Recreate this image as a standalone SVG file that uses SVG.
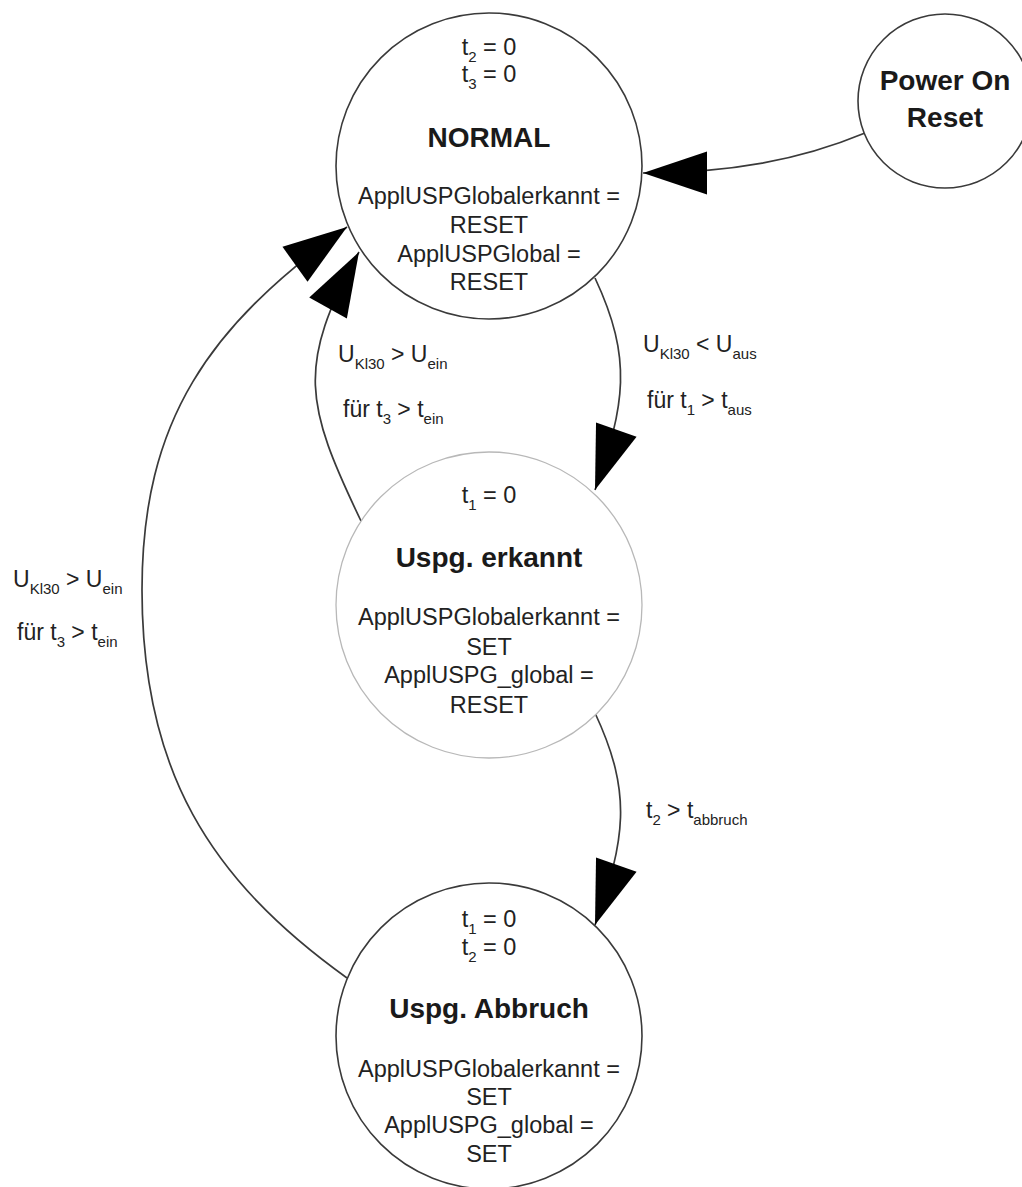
<svg xmlns="http://www.w3.org/2000/svg" width="1022" height="1187" viewBox="0 0 1022 1187">
  <style>
    .state { fill: #ffffff; stroke: #3a3a3a; stroke-width: 1.6; }
    .state.soft { stroke: #b8b8b8; stroke-width: 1.3; }
    .txt { font-family: "Liberation Sans", Arial, sans-serif; font-size: 23.5px; fill: #222; text-anchor: middle; }
    .title { font-family: "Liberation Sans", Arial, sans-serif; font-size: 28px; font-weight: bold; fill: #1a1a1a; text-anchor: middle; }
    .lbl { font-family: "Liberation Sans", Arial, sans-serif; font-size: 23px; fill: #222; }
    .sub { font-size: 15px; }
    .edge { fill: none; stroke: #3a3a3a; stroke-width: 1.7; marker-end: url(#head); }
  </style>
  <defs>
    <marker id="head" markerUnits="userSpaceOnUse" markerWidth="64" markerHeight="43" refX="64" refY="21.5" orient="auto" overflow="visible">
      <path d="M0,0 L64,21.5 L0,43 Z" fill="#000"/>
    </marker>
  </defs>
  <rect width="1022" height="1187" fill="#ffffff"/>

  <!-- transitions -->
  <g id="connectors">
    <!-- Power On Reset -> NORMAL -->
    <path class="edge" d="M865,133 C800,160 730,173 643,173"/>
    <!-- NORMAL -> Uspg. erkannt -->
    <path class="edge" d="M595,278 C633,359 625,405 595,490"/>
    <!-- Uspg. erkannt -> NORMAL -->
    <path class="edge" d="M361,521 C305,404 296,366 359,252"/>
    <!-- Uspg. erkannt -> Uspg. Abbruch -->
    <path class="edge" d="M595,713 C633,794 625,840 595,925"/>
    <!-- Uspg. Abbruch -> NORMAL -->
    <path class="edge" d="M347,978 C209,879 142,770 142,590 C142,420 209,326 347,227"/>
  </g>

  <!-- transition labels -->
  <g id="labels">
    <text class="lbl" x="643" y="352">U<tspan class="sub" dy="7">Kl30</tspan><tspan dy="-7"> &lt; U</tspan><tspan class="sub" dy="7">aus</tspan></text>
    <text class="lbl" x="647" y="408">für t<tspan class="sub" dy="7">1</tspan><tspan dy="-7"> &gt; t</tspan><tspan class="sub" dy="7">aus</tspan></text>
    <text class="lbl" x="338" y="362">U<tspan class="sub" dy="7">Kl30</tspan><tspan dy="-7"> &gt; U</tspan><tspan class="sub" dy="7">ein</tspan></text>
    <text class="lbl" x="343" y="417">für t<tspan class="sub" dy="7">3</tspan><tspan dy="-7"> &gt; t</tspan><tspan class="sub" dy="7">ein</tspan></text>
    <text class="lbl" x="13" y="587">U<tspan class="sub" dy="7">Kl30</tspan><tspan dy="-7"> &gt; U</tspan><tspan class="sub" dy="7">ein</tspan></text>
    <text class="lbl" x="17" y="640">für t<tspan class="sub" dy="7">3</tspan><tspan dy="-7"> &gt; t</tspan><tspan class="sub" dy="7">ein</tspan></text>
    <text class="lbl" x="646" y="818">t<tspan class="sub" dy="7">2</tspan><tspan dy="-7"> &gt; t</tspan><tspan class="sub" dy="7">abbruch</tspan></text>
  </g>

  <!-- states -->
  <g id="normal">
    <circle class="state" cx="489" cy="166" r="153"/>
    <text class="txt" x="489" y="55">t<tspan class="sub" dy="7">2</tspan><tspan dy="-7"> = 0</tspan></text>
    <text class="txt" x="489" y="82">t<tspan class="sub" dy="7">3</tspan><tspan dy="-7"> = 0</tspan></text>
    <text class="title" x="489" y="147">NORMAL</text>
    <text class="txt" x="489" y="204">ApplUSPGlobalerkannt =</text>
    <text class="txt" x="489" y="233">RESET</text>
    <text class="txt" x="489" y="262">ApplUSPGlobal =</text>
    <text class="txt" x="489" y="290">RESET</text>
  </g>

  <g id="power-on-reset">
    <circle class="state" cx="945" cy="101" r="87"/>
    <text class="title" x="945" y="90">Power On</text>
    <text class="title" x="945" y="127">Reset</text>
  </g>

  <g id="uspg-erkannt">
    <circle class="state soft" cx="489" cy="605" r="153"/>
    <text class="txt" x="489" y="503">t<tspan class="sub" dy="7">1</tspan><tspan dy="-7"> = 0</tspan></text>
    <text class="title" x="489" y="567">Uspg. erkannt</text>
    <text class="txt" x="489" y="625">ApplUSPGlobalerkannt =</text>
    <text class="txt" x="489" y="655">SET</text>
    <text class="txt" x="489" y="683">ApplUSPG_global =</text>
    <text class="txt" x="489" y="713">RESET</text>
  </g>

  <g id="uspg-abbruch">
    <circle class="state" cx="489" cy="1036" r="153"/>
    <text class="txt" x="489" y="927">t<tspan class="sub" dy="7">1</tspan><tspan dy="-7"> = 0</tspan></text>
    <text class="txt" x="489" y="955">t<tspan class="sub" dy="7">2</tspan><tspan dy="-7"> = 0</tspan></text>
    <text class="title" x="489" y="1018">Uspg. Abbruch</text>
    <text class="txt" x="489" y="1077">ApplUSPGlobalerkannt =</text>
    <text class="txt" x="489" y="1105">SET</text>
    <text class="txt" x="489" y="1133">ApplUSPG_global =</text>
    <text class="txt" x="489" y="1162">SET</text>
  </g>
</svg>
